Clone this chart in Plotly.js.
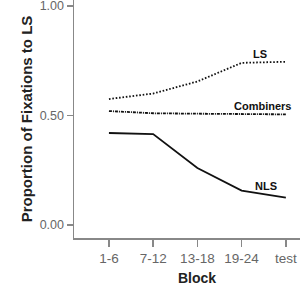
<!DOCTYPE html>
<html><head><meta charset="utf-8">
<script src="https://cdn.plot.ly/plotly-3.0.1.min.js"></script>
<style>html,body{margin:0;padding:0;background:#fff;}#chart{width:303px;height:290px;}</style>
</head><body><div id="chart"></div>
<script>
var blocks = ["1-6", "7-12", "13-18", "19-24", "test"];
var lsValues = [0.575, 0.60, 0.655, 0.74, 0.745];
var combinersValues = [0.52, 0.51, 0.508, 0.507, 0.505];
var nlsValues = [0.42, 0.415, 0.26, 0.157, 0.125];
var yTickVals = [0, 0.5, 1];
var yTickText = ["0.00", "0.50", "1.00"];

var traces = [
  {x: blocks, y: lsValues, mode: "lines", line: {color: "#111", width: 1.8, dash: "1.6px,1.8px"}, name: "LS"},
  {x: blocks, y: combinersValues, mode: "lines", line: {color: "#111", width: 1.8, dash: "3px,1px,1px,1px"}, name: "Combiners"},
  {x: blocks, y: nlsValues, mode: "lines", line: {color: "#111", width: 1.8}, name: "NLS"}
];
var fontFam = "Liberation Sans, Arial, sans-serif";
var layout = {
  width: 303, height: 290,
  margin: {l: 74, r: 3, t: 0, b: 52},
  showlegend: false,
  paper_bgcolor: "#fff", plot_bgcolor: "#fff",
  font: {family: fontFam},
  xaxis: {
    type: "category", range: [-0.79, 4.32],
    showline: true, linecolor: "#888", linewidth: 1.5,
    ticks: "outside", ticklen: 7, tickcolor: "#888", tickwidth: 1.5,
    showgrid: false, zeroline: false,
    tickfont: {size: 13.5, color: "#666", family: fontFam}
  },
  yaxis: {
    range: [-0.0594, 1.027],
    tickvals: yTickVals, ticktext: yTickText,
    ticklabeloverflow: "allow",
    showline: true, linecolor: "#888", linewidth: 1.5,
    ticks: "outside", ticklen: 6, tickcolor: "#888", tickwidth: 1.5,
    showgrid: false, zeroline: false,
    tickfont: {size: 12.5, color: "#666", family: fontFam},
    title: {text: "<b>Proportion of Fixations to LS</b>", font: {size: 15, color: "#222", family: fontFam}, standoff: 3}
  },
  annotations: [
    {x: 2, y: -0.168, xref: "x", yref: "paper", yanchor: "middle", text: "<b>Block</b>", showarrow: false, font: {size: 14, color: "#222", family: fontFam}},
    {x: 3.42, y: 0.78, xref: "x", yref: "y", text: "<b>LS</b>", showarrow: false, font: {size: 11, color: "#111", family: fontFam}},
    {x: 3.47, y: 0.545, xref: "x", yref: "y", text: "<b>Combiners</b>", showarrow: false, font: {size: 11, color: "#111", family: fontFam}},
    {x: 3.55, y: 0.18, xref: "x", yref: "y", text: "<b>NLS</b>", showarrow: false, font: {size: 11, color: "#111", family: fontFam}}
  ]
};
Plotly.newPlot("chart", traces, layout, {staticPlot: true, displayModeBar: false});
</script></body></html>
